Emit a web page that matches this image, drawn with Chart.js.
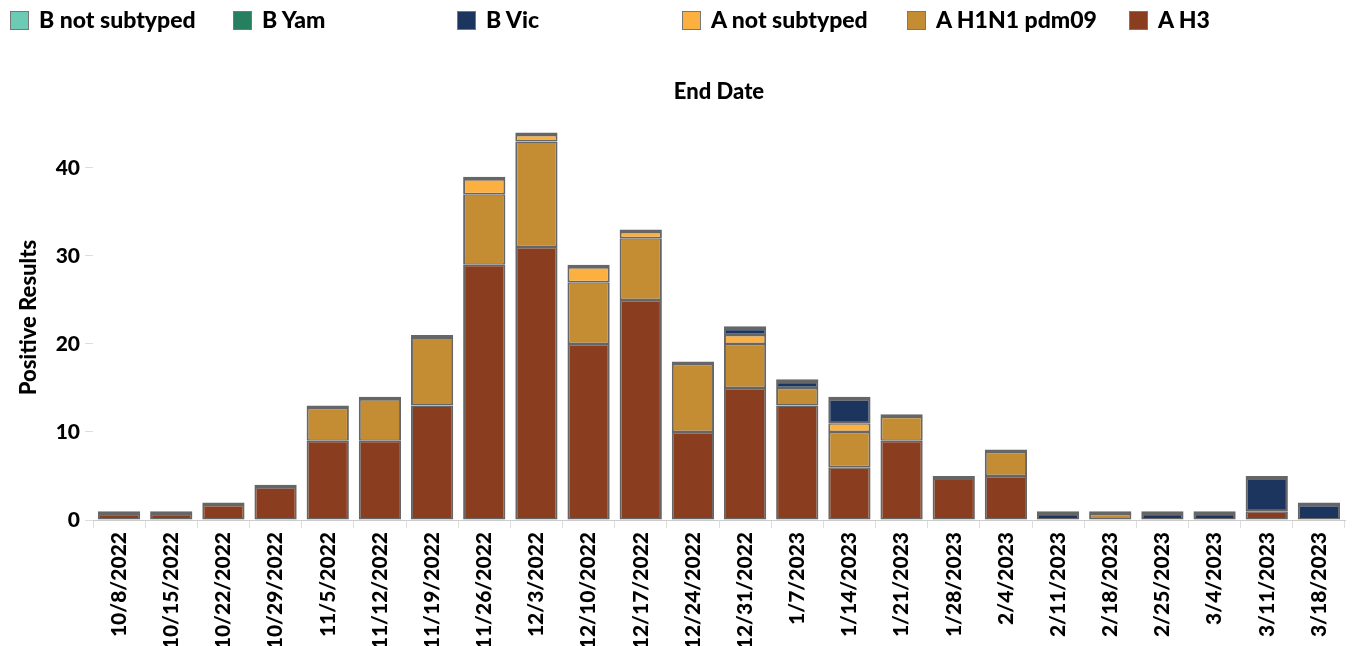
<!DOCTYPE html>
<html>
<head>
<meta charset="utf-8">
<script src="https://cdn.jsdelivr.net/npm/chart.js@4"></script>
<style>
  html, body { margin: 0; padding: 0; background: #fff; }
  #wrap { position: relative; width: 1352px; height: 646px; }
  #legend { position: absolute; left: 0; top: 0; width: 1352px; height: 40px; font-family: Lato, sans-serif; font-weight: 900; font-size: 23px; color: #000; }
  .item { position: absolute; top: 7px; white-space: nowrap; line-height: 25px; }
  .box { display: inline-block; width: 17px; height: 17px; border: 1px solid #777; vertical-align: -2px; margin-right: 10px; }
</style>
</head>
<body>
<div id="wrap">
  <canvas id="chart" width="1352" height="646"></canvas>
  <div id="legend"></div>
</div>
<script>
const labels = ["10/8/2022", "10/15/2022", "10/22/2022", "10/29/2022", "11/5/2022", "11/12/2022",
  "11/19/2022", "11/26/2022", "12/3/2022", "12/10/2022", "12/17/2022", "12/24/2022", "12/31/2022",
  "1/7/2023", "1/14/2023", "1/21/2023", "1/28/2023", "2/4/2023", "2/11/2023", "2/18/2023",
  "2/25/2023", "3/4/2023", "3/11/2023", "3/18/2023"];

const aH3      = [1, 1, 2, 4, 9, 9, 13, 29, 31, 20, 25, 10, 15, 13, 6, 9, 5, 5, 0, 0, 0, 0, 1, 0];
const aH1N1    = [0, 0, 0, 0, 4, 5, 8, 8, 12, 7, 7, 8, 5, 2, 4, 3, 0, 3, 0, 1, 0, 0, 0, 0];
const aNotSub  = [0, 0, 0, 0, 0, 0, 0, 2, 1, 2, 1, 0, 1, 0, 1, 0, 0, 0, 0, 0, 0, 0, 0, 0];
const bVic     = [0, 0, 0, 0, 0, 0, 0, 0, 0, 0, 0, 0, 1, 1, 3, 0, 0, 0, 1, 0, 1, 1, 4, 2];
const bYam     = [0, 0, 0, 0, 0, 0, 0, 0, 0, 0, 0, 0, 0, 0, 0, 0, 0, 0, 0, 0, 0, 0, 0, 0];
const bNotSub  = [0, 0, 0, 0, 0, 0, 0, 0, 0, 0, 0, 0, 0, 0, 0, 0, 0, 0, 0, 0, 0, 0, 0, 0];

const yTicks = [0, 10, 20, 30, 40];

// bottom of stack first
const series = [
  { label: "A H3", data: aH3, color: "#8b3d1f" },
  { label: "A H1N1 pdm09", data: aH1N1, color: "#c48c33" },
  { label: "A not subtyped", data: aNotSub, color: "#fbb040" },
  { label: "B Vic", data: bVic, color: "#1c355e" },
  { label: "B Yam", data: bYam, color: "#267f5e" },
  { label: "B not subtyped", data: bNotSub, color: "#6ccbb4" },
];

// legend, left to right
const legendX = [10, 233, 457, 682, 907, 1129];
const legend = document.getElementById("legend");
series.slice().reverse().forEach((s, i) => {
  const el = document.createElement("div");
  el.className = "item";
  el.style.left = legendX[i] + "px";
  el.innerHTML = `<span class="box" style="background:${s.color}"></span>${s.label}`;
  legend.appendChild(el);
});

function segBorder(ctx) {
  const sets = ctx.chart.data.datasets;
  const i = ctx.dataIndex;
  if (!sets[ctx.datasetIndex].data[i]) return 0;
  let isTop = true;
  for (let k = ctx.datasetIndex + 1; k < sets.length; k++) {
    if (sets[k].data[i]) isTop = false;
  }
  return isTop ? { top: 4, left: 2, right: 2, bottom: 1.5 } : { top: 1.5, left: 2, right: 2, bottom: 1.5 };
}

const endDateTitle = {
  id: "endDateTitle",
  afterDraw(chart) {
    const { ctx, chartArea } = chart;
    ctx.save();
    ctx.font = "900 22px Lato, sans-serif";
    ctx.fillStyle = "#000";
    ctx.textAlign = "center";
    ctx.textBaseline = "middle";
    ctx.fillText("End Date", (chartArea.left + chartArea.right) / 2, 92);
    ctx.restore();
  }
};

const tickFont = { family: "Lato, sans-serif", weight: "900", size: 21 };
const titleFont = { family: "Lato, sans-serif", weight: "900", size: 22 };

new Chart(document.getElementById("chart"), {
  type: "bar",
  data: {
    labels: labels,
    datasets: series.map((s) => ({
      label: s.label,
      data: s.data,
      backgroundColor: s.color,
      borderColor: "#666666",
      borderWidth: segBorder,
      borderSkipped: false,
      categoryPercentage: 1,
      barPercentage: 0.81,
    })),
  },
  options: {
    responsive: false,
    animation: false,
    layout: { padding: { top: 115, right: 7, left: 0, bottom: 0 } },
    plugins: {
      legend: { display: false },
      title: { display: false },
      tooltip: { enabled: false },
    },
    scales: {
      x: {
        stacked: true,
        afterFit(scale) { scale.height = 126; },
        grid: { offset: true, drawOnChartArea: false, tickLength: 8, color: "#dddddd" },
        border: { display: true, color: "#cccccc", dash: [2, 2] },
        ticks: { font: tickFont, color: "#000", minRotation: 90, maxRotation: 90, autoSkip: false, padding: 4 },
      },
      y: {
        stacked: true,
        min: 0,
        max: 46,
        afterFit(scale) { scale.width = 93; },
        afterBuildTicks(scale) { scale.ticks = yTicks.map((v) => ({ value: v })); },
        grid: { drawOnChartArea: false, tickLength: 8, color: "#dddddd" },
        border: { display: false },
        ticks: { font: tickFont, color: "#000", padding: 5 },
        title: {
          display: true,
          text: "Positive Results",
          font: titleFont,
          color: "#000",
          padding: { top: 16, bottom: 0 },
        },
      },
    },
  },
  plugins: [endDateTitle],
});
</script>
</body>
</html>
